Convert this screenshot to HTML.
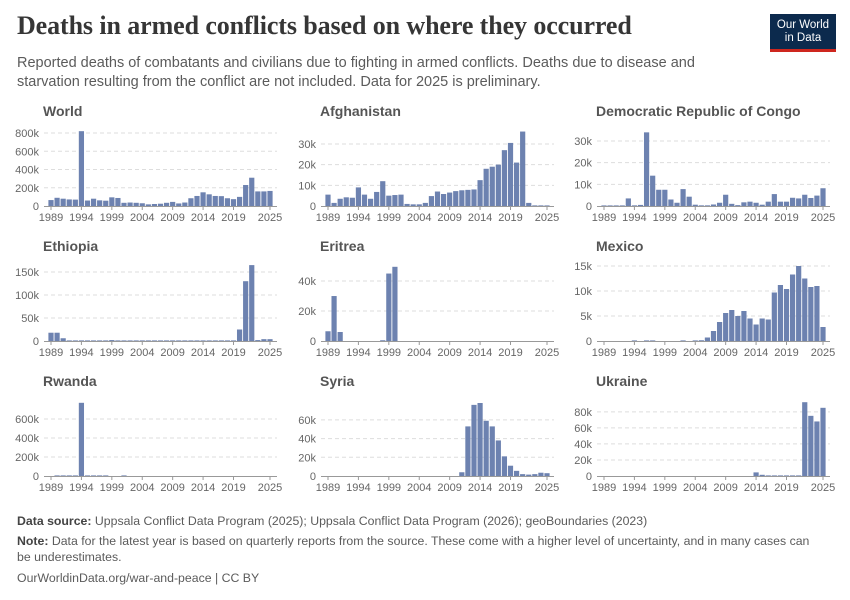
<!DOCTYPE html>
<html><head><meta charset="utf-8">
<style>
body{margin:0;background:#fff;font-family:"Liberation Sans",sans-serif;}
#wrap{position:relative;width:850px;height:600px;overflow:hidden;}
h1{position:absolute;left:17px;top:11px;margin:0;font-family:"Liberation Serif",serif;font-size:26px;font-weight:bold;color:#363636;letter-spacing:-0.1px;}
.sub{position:absolute;left:17px;top:54px;width:740px;font-size:14.5px;line-height:19px;color:#5b5b5b;}
.logo{position:absolute;left:770px;top:14px;width:66px;height:38px;background:#0c2a4d;color:#fff;font-size:11.5px;line-height:13px;text-align:center;padding-top:5px;box-sizing:border-box;border-bottom:3px solid #ce261e;}
.foot{position:absolute;left:17px;font-size:12.3px;color:#5b5b5b;line-height:16px;width:800px;}
.foot b{color:#444;}
</style></head><body>
<div id="wrap">
<h1>Deaths in armed conflicts based on where they occurred</h1>
<div class="sub">Reported deaths of combatants and civilians due to fighting in armed conflicts. Deaths due to disease and starvation resulting from the conflict are not included. Data for 2025 is preliminary.</div>
<div class="logo">Our World<br>in Data</div>
<svg id="chart" width="850" height="600" style="position:absolute;left:0;top:0"></svg>
<div class="foot" style="top:513px"><b>Data source:</b> Uppsala Conflict Data Program (2025); Uppsala Conflict Data Program (2026); geoBoundaries (2023)</div>
<div class="foot" style="top:533px"><b>Note:</b> Data for the latest year is based on quarterly reports from the source. These come with a higher level of uncertainty, and in many cases can be underestimates.</div>
<div class="foot" style="top:570px">OurWorldinData.org/war-and-peace | CC BY</div>
</div>
<script>
const years = [];
for (let y = 1989; y <= 2025; y++) years.push(y);
const tickYears = [1989,1994,1999,2004,2009,2014,2019,2025];
const countries = ["World","Afghanistan","Democratic Republic of Congo","Ethiopia","Eritrea","Mexico","Rwanda","Syria","Ukraine"];
const worldVals = [65,90,80,72,70,820,60,80,62,58,95,88,35,38,35,30,18,22,25,35,45,28,38,85,110,150,128,110,108,85,75,100,230,310,160,160,165];
const afghanistanVals = [5.5,1.5,3.5,4.2,4,9,5.5,3.5,6.8,12,5,5.3,5.5,1,0.8,0.8,1.5,4.8,7,5.8,6.5,7.2,7.6,7.8,8,12.5,18,19,20,27,30.5,21,36,1.5,0.3,0.3,0.2];
const drcVals = [0.1,0.1,0.1,0.2,3.5,0.3,0.5,34,14,7.5,7.5,3,1.5,7.8,4.3,0.6,0.3,0.3,0.7,1.5,5.2,1,0.4,1.7,2,1.5,0.6,2,5.5,2,2,3.8,3.5,5.2,3.7,4.8,8.2];
const ethiopiaVals = [18,18,6,1,0.3,0.5,0.5,0.5,0.5,0.5,2,0.5,0.5,0.5,0.5,0.5,0.5,0.5,0.5,0.5,0.5,0.5,0.5,0.5,0.5,0.5,0.5,0.5,0.5,0.5,0.5,25,130,165,2,4,4];
const eritreaVals = [6.5,30,6,0,0,0,0,0,0,0.5,45,49.5,0,0,0,0,0,0,0,0,0,0,0,0,0,0,0,0,0,0,0,0,0,0,0,0,0];
const mexicoVals = [0,0,0,0,0,0.1,0,0.05,0.05,0,0,0,0,0.05,0,0.1,0.15,0.7,2,3.8,5.6,6.2,5,6,4.5,3.3,4.5,4.3,9.7,11.2,10.4,13.3,15,12.5,10.8,11,2.8];
const rwandaVals = [0,1,1,1,1,770,3,3,5,2,0,0,1,0,0,0,0,0,0,0,0,0,0,0,0,0,0,0,0,0,0,0,0,0,0,0,0];
const syriaVals = [0,0,0,0,0,0,0,0,0,0,0,0,0,0,0,0,0,0,0,0,0,0,4,53,76,78,59,53,38,21,11,5.5,2,1.5,2,3.5,3];
const ukraineVals = [0,0,0,0,0,0,0,0,0,0,0,0,0,0,0,0,0,0,0,0,0,0,0,0,0,4.5,1.5,0.5,0.5,0.3,0.3,0.2,0.3,92,75,68,85];
const seriesList = [worldVals,afghanistanVals,drcVals,ethiopiaVals,eritreaVals,mexicoVals,rwandaVals,syriaVals,ukraineVals];
const yTicksList = [[0,200,400,600,800],[0,10,20,30],[0,10,20,30],[0,50,100,150],[0,20,40],[0,5,10,15],[0,200,400,600],[0,20,40,60],[0,20,40,60,80]];
const yTopList = [800,35.3,33.7,158.7,48.7,14.6,768,78,91];

const svg = document.getElementById('chart');
const NS = 'http://www.w3.org/2000/svg';
function mk(tag, attrs){const e=document.createElementNS(NS,tag);for(const k in attrs)e.setAttribute(k,attrs[k]);svg.appendChild(e);return e;}
const colX0 = [51,328,604];
const rowBase = [206,341,476];
const span = 219, H = 73;
countries.forEach((name,i)=>{
  const c=i%3, r=Math.floor(i/3);
  const x0=colX0[c], base=rowBase[r];
  const xs = idx => x0 + idx*span/(years.length-1);
  const ys = v => base - v/yTopList[i]*H;
  const t=mk('text',{x:x0-8,y:base-90,'font-size':14,'font-weight':'bold',fill:'#555'});
  t.textContent=name;
  
  
  yTicksList[i].forEach(v=>{
    const y=ys(v);
    if(v>0){const g=mk('line',{x1:x0-7,x2:x0+span+7,y1:y,y2:y,stroke:'#ddd','stroke-dasharray':'4,3'});
      
      }
    const l=mk('text',{x:x0-12,y:y+4,'font-size':11,fill:'#666','text-anchor':'end'});
    l.textContent = v===0?'0':v+'k';
    
    
  });
  seriesList[i].forEach((v,idx)=>{
    if(v<=0) return;
    const h=Math.max(v/yTopList[i]*H,0.6);
    const b=mk('rect',{x:xs(idx)-2.6,y:base-h,width:5.2,height:h,fill:'#6d82b0'});
    
    
  });
  const ax=mk('line',{x1:x0-7,x2:x0+span+7,y1:base+0.5,y2:base+0.5,stroke:'#999'});
  
  
  tickYears.forEach(yr=>{
    const idx=years.indexOf(yr);
    const tk=mk('line',{x1:xs(idx),x2:xs(idx),y1:base,y2:base+4,stroke:'#999'});
    
    
    const l=mk('text',{x:xs(idx),y:base+15,'font-size':11,fill:'#666','text-anchor':'middle'});
    l.textContent=yr;
    
    
  });
});
</script>
</body></html>
